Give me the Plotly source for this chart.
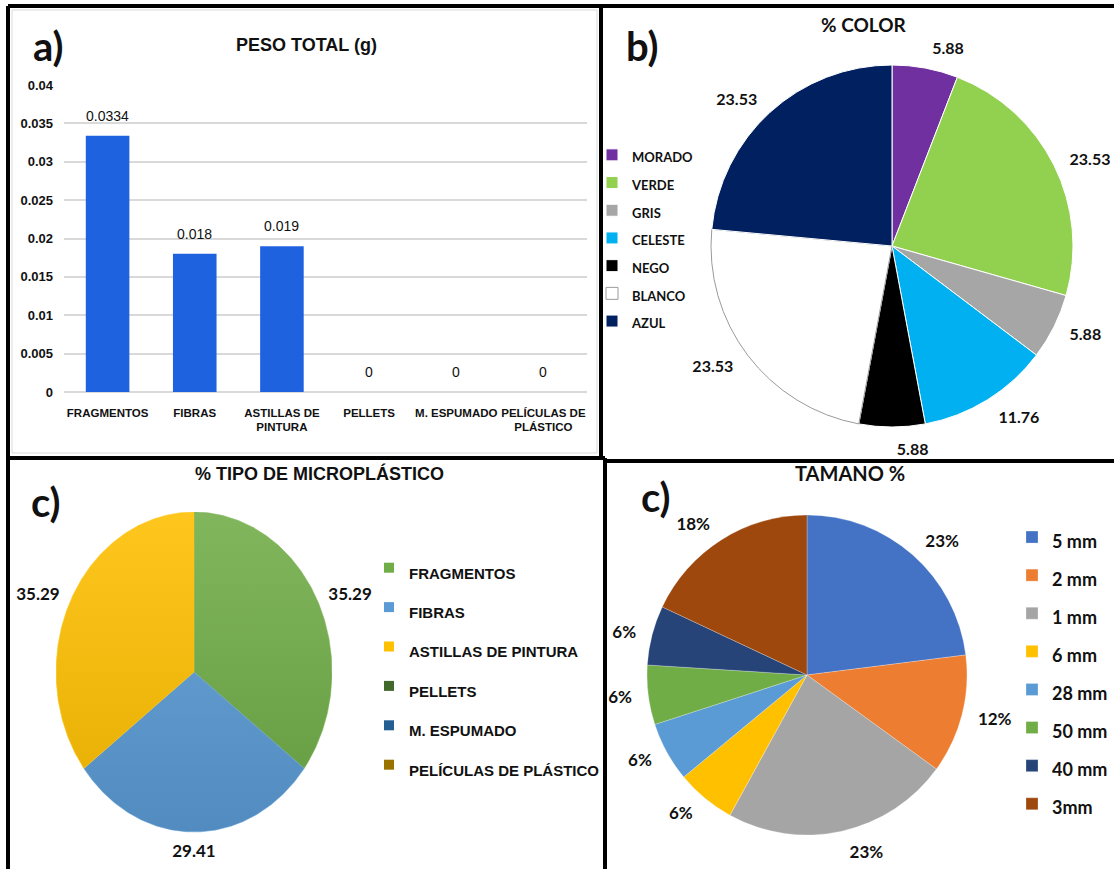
import math
import plotly.graph_objects as go

W, H = 1114, 869

# a) total weight per microplastic type (g)
PESO_CATS = ["FRAGMENTOS", "FIBRAS", "ASTILLAS DE<br>PINTURA", "PELLETS",
             "M. ESPUMADO", "PELÍCULAS DE<br>PLÁSTICO"]
PESO_VALUES = [0.0334, 0.018, 0.019, 0, 0, 0]
PESO_TICKS = [0, 0.005, 0.01, 0.015, 0.02, 0.025, 0.03, 0.035, 0.04]

# b) share by colour (%)
COLOR_NAMES = ["MORADO", "VERDE", "GRIS", "CELESTE", "NEGO", "BLANCO", "AZUL"]
COLOR_PCT = [5.88, 23.53, 5.88, 11.76, 5.88, 23.53, 23.53]
COLOR_FILLS = ["#7030a0", "#92d050", "#a6a6a6", "#00b0f0", "#000000", "#ffffff", "#002060"]
COLOR_EDGES = ["#ffffff", "#ffffff", "#ffffff", "#ffffff", "#ffffff", "#9a9a9a", "#ffffff"]

# c) share by microplastic type (%)
TIPO_NAMES = ["FRAGMENTOS", "FIBRAS", "ASTILLAS DE PINTURA", "PELLETS",
              "M. ESPUMADO", "PELÍCULAS DE PLÁSTICO"]
TIPO_PCT = [35.29, 29.41, 35.29, 0, 0, 0]
TIPO_FILLS = ["#70ad47", "#5b9bd5", "#ffc000", "#43682b", "#255e91", "#997300"]

# d) share by size (%)
TAM_NAMES = ["5 mm", "2 mm", "1 mm", "6 mm", "28 mm", "50 mm", "40 mm", "3mm"]
TAM_PCT = [23, 12, 23, 6, 6, 6, 6, 18]
TAM_FILLS = ["#4472c4", "#ed7d31", "#a5a5a5", "#ffc000", "#5b9bd5", "#70ad47", "#264478", "#9e480e"]

SANS = "Liberation Sans, Arial, sans-serif"
WIDE = "Lato, Open Sans, sans-serif"
BAR_BLUE = "#1f62e0"
CLEAR = "rgba(0,0,0,0)"

# pie geometry (pixels): centre, radius, and radius used to seat the value labels
PIE_B = dict(cx=892, cy=246, r=181, label_r=193)
PIE_D = dict(cx=807, cy=675, r=160, label_r=171)
# ellipse geometry for panel c (pixels per unit on each axis)
ELL_CX, ELL_CY, ELL_RX, ELL_RY = 194, 672, 138, 160


def px(x):
    return x / W


def py(y):
    return 1 - y / H


def pie_domain(cx, cy, r):
    return dict(x=[px(cx - r), px(cx + r)], y=[py(cy + r), py(cy - r)])


def shade(hex_color, f):
    r, g, b = (int(hex_color[i:i + 2], 16) for i in (1, 3, 5))
    if f >= 0:
        r, g, b = (int(c + (255 - c) * f) for c in (r, g, b))
    else:
        r, g, b = (int(c * (1 + f)) for c in (r, g, b))
    return f"#{r:02x}{g:02x}{b:02x}"


def small(text, size):
    return f"<span style='font-size:{size}px'>{text}</span>"


fig = go.Figure()

# ---- a) bar chart -------------------------------------------------------
fig.add_trace(go.Bar(
    x=PESO_CATS, y=PESO_VALUES, marker=dict(color=BAR_BLUE, line=dict(width=0)),
    xaxis="x", yaxis="y", showlegend=False, hoverinfo="x+y",
))

# ---- b) colour pie ------------------------------------------------------
fig.add_trace(go.Pie(
    labels=[small(n, 13) for n in COLOR_NAMES], values=COLOR_PCT,
    marker=dict(colors=COLOR_FILLS, line=dict(color=COLOR_EDGES, width=1)),
    sort=False, direction="clockwise", rotation=0, textinfo="none",
    domain=pie_domain(PIE_B["cx"], PIE_B["cy"], PIE_B["r"]),
    legend="legend", hoverinfo="value",
))
# value labels, seated a little further out than the slices
fig.add_trace(go.Pie(
    labels=COLOR_NAMES, values=COLOR_PCT,
    marker=dict(colors=[CLEAR] * len(COLOR_PCT), line=dict(width=0)),
    sort=False, direction="clockwise", rotation=0,
    texttemplate="%{value}", textposition="outside",
    outsidetextfont=dict(family=WIDE, size=16, color="#111", weight="bold"),
    domain=pie_domain(PIE_B["cx"], PIE_B["cy"], PIE_B["label_r"]),
    showlegend=False, hoverinfo="skip", legend="legend",
))

# ---- c) type share, drawn as an ellipse on stretched axes ---------------
gap_x, gap_y = 1 + 12 / ELL_RX, 1 + 12 / ELL_RY
total = sum(TIPO_PCT)
start = 0.0
for name, val, fill in zip(TIPO_NAMES, TIPO_PCT, TIPO_FILLS):
    a0 = start / total * 2 * math.pi
    a1 = (start + val) / total * 2 * math.pi
    start += val
    if val > 0:
        n = max(int((a1 - a0) / 0.01), 2)
        xs = [0.0] + [math.sin(a0 + (a1 - a0) * k / n) for k in range(n + 1)] + [0.0]
        ys = [0.0] + [math.cos(a0 + (a1 - a0) * k / n) for k in range(n + 1)] + [0.0]
        fig.add_trace(go.Scatter(
            x=xs, y=ys, mode="lines", fill="toself",
            line=dict(width=0.5, color=shade(fill, 0.1)),
            fillgradient=dict(type="vertical", start=-1, stop=1,
                              colorscale=[[0, shade(fill, -0.1)], [1, shade(fill, 0.12)]]),
            xaxis="x2", yaxis="y2", showlegend=False, hoverinfo="skip",
        ))
        mid = (a0 + a1) / 2
        sx, cy = math.sin(mid), math.cos(mid)
        if sx > 0.3:
            pos = "middle right"
        elif sx < -0.3:
            pos = "middle left"
        else:
            pos = "bottom center" if cy < 0 else "top center"
        fig.add_trace(go.Scatter(
            x=[gap_x * sx], y=[gap_y * cy], mode="text", text=[f"{val:g}"],
            textposition=pos, cliponaxis=False,
            textfont=dict(family=WIDE, size=17, color="#111", weight="bold"),
            xaxis="x2", yaxis="y2", showlegend=False, hoverinfo="skip",
        ))
    fig.add_trace(go.Scatter(
        x=[None], y=[None], mode="markers", name=small(name, 15),
        marker=dict(symbol="square", size=10, color=fill),
        xaxis="x2", yaxis="y2", legend="legend2", showlegend=True,
    ))

# ---- d) size pie --------------------------------------------------------
fig.add_trace(go.Pie(
    labels=[small(n, 18) for n in TAM_NAMES], values=TAM_PCT,
    marker=dict(colors=TAM_FILLS, line=dict(color="rgba(255,255,255,0.5)", width=0.5)),
    sort=False, direction="clockwise", rotation=0, textinfo="none",
    domain=pie_domain(PIE_D["cx"], PIE_D["cy"], PIE_D["r"]),
    legend="legend3", hoverinfo="label+value",
))
fig.add_trace(go.Pie(
    labels=TAM_NAMES, values=TAM_PCT,
    marker=dict(colors=[CLEAR] * len(TAM_PCT), line=dict(width=0)),
    sort=False, direction="clockwise", rotation=0,
    texttemplate="%{value}%", textposition="outside",
    outsidetextfont=dict(family=WIDE, size=17, color="#111", weight="bold"),
    domain=pie_domain(PIE_D["cx"], PIE_D["cy"], PIE_D["label_r"]),
    showlegend=False, hoverinfo="skip", legend="legend3",
))

# ---- panel frames -------------------------------------------------------
frame = []
for x0, y0, x1, y1 in [
    (8, 6, 1114, 6),        # top edge
    (8, 6, 8, 869),         # left edge
    (601, 6, 601, 459),     # a | b divider
    (8, 458, 605, 458),     # a / c divider
    (603, 461, 1114, 461),  # b / d divider
    (605, 458, 605, 869),   # c | d divider
]:
    frame.append(dict(type="line", xref="paper", yref="paper",
                      x0=px(x0), y0=py(y0), x1=px(x1), y1=py(y1),
                      line=dict(color="#000", width=4)))
frame.append(dict(type="rect", xref="paper", yref="paper",
                  x0=px(12), y0=py(453), x1=px(597), y1=py(10),
                  line=dict(color="#d9d9d9", width=1), layer="below"))


# ---- titles, panel letters and bar value labels -------------------------
def text_note(x, y, text, size, family, weight="bold"):
    return dict(x=px(x), y=py(y), xref="paper", yref="paper", text=text,
                showarrow=False, xanchor="center", yanchor="middle",
                font=dict(family=family, size=size, color="#111", weight=weight))


notes = [
    text_note(306, 45, "PESO TOTAL (g)", 18, SANS),
    text_note(48, 46, "a)", 40, WIDE),
    text_note(864, 25, "% COLOR", 19, WIDE),
    text_note(642, 46, "b)", 40, WIDE),
    text_note(319, 473, "% TIPO DE MICROPLÁSTICO", 18, SANS),
    text_note(46, 502, "c)", 40, WIDE),
    text_note(850, 473, "TAMANO %", 20, WIDE),
    text_note(656, 497, "c)", 40, WIDE),
]
for cat, val in zip(PESO_CATS, PESO_VALUES):
    notes.append(dict(x=cat, y=val, xref="x", yref="y", text=f"{val:g}",
                      showarrow=False, yanchor="bottom", yshift=10,
                      font=dict(family=SANS, size=14, color="#111")))

fig.update_layout(
    width=W, height=H, autosize=False,
    margin=dict(l=0, r=0, t=0, b=0, pad=0, autoexpand=False),
    paper_bgcolor="white", plot_bgcolor="white",
    bargap=0.5,
    xaxis=dict(domain=[px(64), px(587)], showgrid=False, showline=False,
               ticks="", tickangle=0, ticklabelstandoff=12, fixedrange=True,
               automargin=False,
               tickfont=dict(family=SANS, size=11.5, color="#111", weight="bold")),
    yaxis=dict(domain=[py(392), py(85)], range=[0, 0.04], tickvals=PESO_TICKS,
               showgrid=True, gridcolor="#d9d9d9", gridwidth=1.5,
               zeroline=True, zerolinecolor="#d9d9d9", zerolinewidth=1.5,
               showline=False, ticks="", ticklabelstandoff=10, fixedrange=True,
               automargin=False,
               tickfont=dict(family=SANS, size=13, color="#111", weight="bold")),
    xaxis2=dict(domain=[px(ELL_CX - ELL_RX), px(ELL_CX + ELL_RX)], range=[-1, 1],
                visible=False, fixedrange=True, automargin=False),
    yaxis2=dict(domain=[py(ELL_CY + 1.2 * ELL_RY), py(ELL_CY - ELL_RY)], range=[-1.2, 1],
                visible=False, fixedrange=True, anchor="x2", automargin=False),
    legend=dict(x=px(592), y=py(136), xanchor="left", yanchor="top",
                font=dict(family=WIDE, size=19, color="#111", weight="bold"),
                bgcolor="rgba(0,0,0,0)", itemclick=False, itemdoubleclick=False),
    legend2=dict(x=px(369), y=py(543), xanchor="left", yanchor="top",
                 font=dict(family=SANS, size=28, color="#111", weight="bold"),
                 bgcolor="rgba(0,0,0,0)", itemclick=False, itemdoubleclick=False),
    legend3=dict(x=px(1012), y=py(513), xanchor="left", yanchor="top",
                 font=dict(family=WIDE, size=27, color="#111", weight="bold"),
                 bgcolor="rgba(0,0,0,0)", itemclick=False, itemdoubleclick=False),
    shapes=frame,
    annotations=notes,
)

fig.write_html(
    "out.html",
    config={"responsive": False},
    post_script=(
        "document.documentElement.style.margin='0';"
        "document.body.style.margin='0';document.body.style.padding='0';"
        "document.body.style.overflow='hidden';"
        "var g=document.getElementById('{plot_id}');"
        "g.style.position='fixed';g.style.left='0px';g.style.top='0px';"
    ),
)
